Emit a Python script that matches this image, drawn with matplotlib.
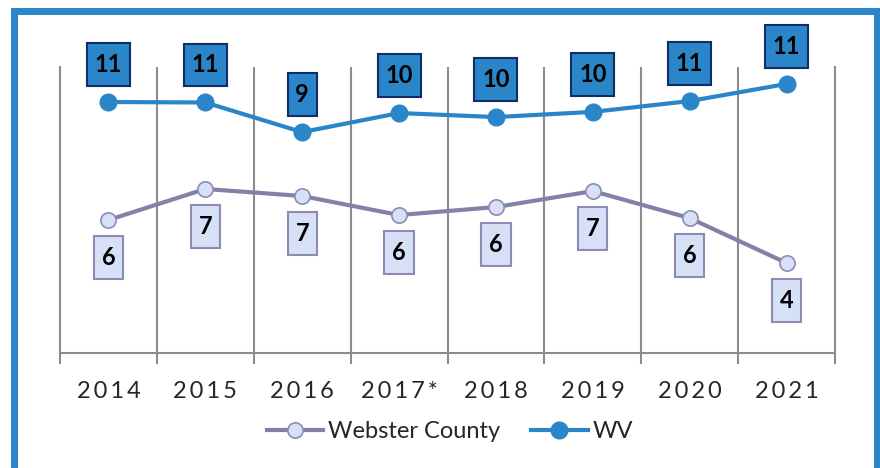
import matplotlib.pyplot as plt
from matplotlib.lines import Line2D
from matplotlib.patches import Rectangle
from matplotlib.path import Path

# Chart data
years = ["2014", "2015", "2016", "2017*", "2018", "2019", "2020", "2021"]
webster = [5.66, 6.98, 6.68, 5.87, 6.21, 6.89, 5.74, 3.83]
wv = [10.68, 10.66, 9.40, 10.21, 10.04, 10.26, 10.72, 11.45]

# Colors
wv_color = "#2A86C8"
wv_edge = "#122C6A"
web_line = "#8580A8"
web_fill = "#D6E0F6"
web_edge = "#8E8AB4"
grid_color = "#8C8C8C"
text_color = "#262626"

plt.rcParams["font.family"] = ["Lato", "DejaVu Sans"]


def tall_box(x0, y0, width, height, mutation_size):
    # label box with more room above and below the number
    px = 0.33 * mutation_size
    py = 0.42 * mutation_size
    x0, y0 = x0 - px, y0 - py
    x1, y1 = x0 + width + 2 * px, y0 + height + 2 * py
    return Path([(x0, y0), (x1, y0), (x1, y1), (x0, y1), (x0, y0)], closed=True)


fig = plt.figure(figsize=(8.8, 4.68), dpi=100)
ax = fig.add_axes([60 / 880, 1 - 353 / 468, 775 / 880, 286 / 468])

xs = list(range(len(years)))

# Plot lines
ax.plot(xs, webster, color=web_line, linewidth=3, marker="o", markersize=11,
        markerfacecolor=web_fill, markeredgecolor=web_edge, markeredgewidth=1.2, zorder=3)
ax.plot(xs, wv, color=wv_color, linewidth=3, marker="o", markersize=12,
        markerfacecolor=wv_color, markeredgecolor=wv_color, zorder=3)

# Data labels
for x, v in zip(xs, wv):
    ax.annotate("%d" % round(v), (x, v), xytext=(0, 27), textcoords="offset points",
                ha="center", va="center", fontsize=17, fontweight="bold", color="black",
                bbox=dict(boxstyle=tall_box, facecolor=wv_color, edgecolor=wv_edge, linewidth=1.5),
                zorder=4)
for x, v in zip(xs, webster):
    ax.annotate("%d" % round(v), (x, v), xytext=(0, -27), textcoords="offset points",
                ha="center", va="center", fontsize=17, fontweight="bold", color="black",
                bbox=dict(boxstyle=tall_box, facecolor=web_fill, edgecolor=web_edge, linewidth=1.5),
                zorder=4)

# Axes configuration
ax.set_xlim(-0.5, len(years) - 0.5)
ax.set_ylim(0, 12.17)
ax.set_yticks([])
ax.set_xticks(xs)
ax.set_xticklabels(["\u2009".join(y) for y in years], fontsize=17, color=text_color)
ax.set_xticks([x - 0.5 for x in range(len(years) + 1)], minor=True)
ax.tick_params(axis="x", which="major", length=0, pad=20)
ax.tick_params(axis="x", which="minor", length=8, width=1.5, color=grid_color, direction="out")
ax.grid(axis="x", which="minor", color=grid_color, linewidth=1.5)
ax.spines["top"].set_visible(False)
for side in ["left", "right", "bottom"]:
    ax.spines[side].set_color(grid_color)
    ax.spines[side].set_linewidth(1.5)

# Legend
handles = [
    Line2D([], [], color=web_line, linewidth=3, marker="o", markersize=11,
           markerfacecolor=web_fill, markeredgecolor=web_edge, markeredgewidth=1.2),
    Line2D([], [], color=wv_color, linewidth=3, marker="o", markersize=12,
           markerfacecolor=wv_color, markeredgecolor=wv_color),
]
fig.legend(handles, ["Webster County", "WV"], loc="center", bbox_to_anchor=(0.511, 0.077),
           ncol=2, frameon=False, fontsize=17, handlelength=2.4, handletextpad=0.2,
           columnspacing=1.3, labelcolor=text_color)

# Outer blue frame
fig.patches.append(Rectangle((13.5 / 880, -3 / 468), (876.5 - 13.5) / 880, (471 - 10.5) / 468,
                             transform=fig.transFigure, fill=False, edgecolor=wv_color, linewidth=5))

fig.savefig("out.png", dpi=100)
